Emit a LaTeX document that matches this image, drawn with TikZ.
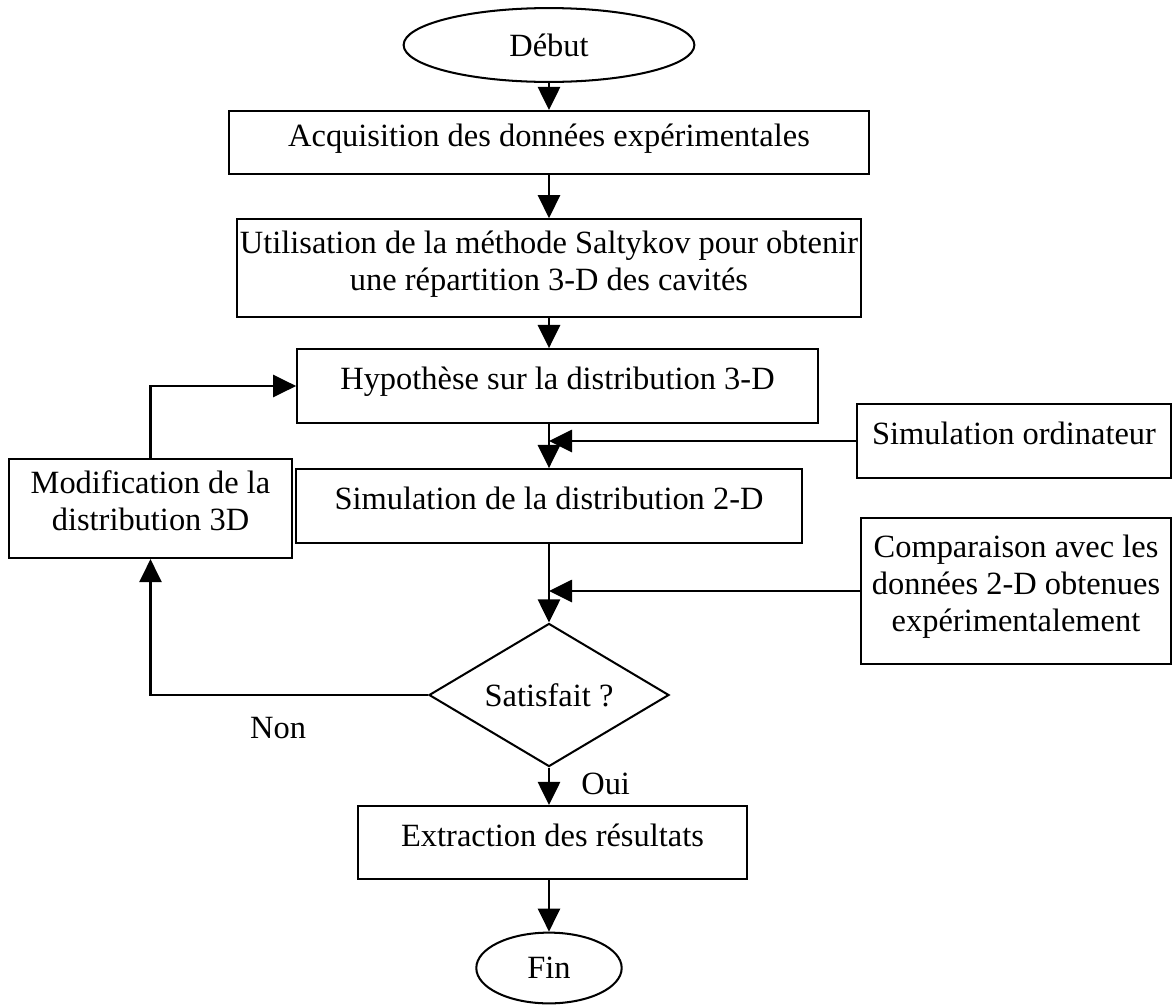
\documentclass[tikz,border=0pt]{standalone}
\usepackage{fontspec}
\setmainfont{Liberation Serif}
\usetikzlibrary{arrows.meta, shapes.geometric}

\begin{document}
\begin{tikzpicture}[
    x=0.013cm, y=-0.013cm,
    line width=0.75pt,
    font=\fontsize{12}{13.7}\selectfont,
    process/.style={rectangle, draw, align=center, inner sep=0pt, text depth=0.2cm},
    terminal/.style={ellipse, draw, inner sep=0pt},
    decision/.style={diamond, draw, aspect=1.68, inner sep=0pt},
    arrow/.style={-{Triangle[length=3mm, width=2.9mm]}}
  ]
    \useasboundingbox (0,0) rectangle (1173,1005);

    \node[terminal, minimum width=3.78cm, minimum height=0.96cm] (debut) at (549,45) {Début};
    \node[process, minimum width=8.32cm, minimum height=0.82cm] (acq) at (549,142.5) {Acquisition des données expérimentales};
    \node[process, minimum width=8.11cm, minimum height=1.27cm] (salt) at (549,268) {Utilisation de la méthode Saltykov pour obtenir\\une répartition 3-D des cavités};
    \node[process, minimum width=6.77cm, minimum height=0.96cm] (hyp) at (557.5,386) {Hypothèse sur la distribution 3-D};
    \node[process, minimum width=6.58cm, minimum height=0.96cm] (sim) at (549,506) {Simulation de la distribution 2-D};
    \node[process, minimum width=4.08cm, minimum height=0.96cm] (simord) at (1014,441) {Simulation ordinateur};
    \node[process, minimum width=4.03cm, minimum height=1.9cm] (comp) at (1016,591) {Comparaison avec les\\données 2-D obtenues\\expérimentalement};
    \node[process, minimum width=3.68cm, minimum height=1.29cm] (modif) at (150.5,508.5) {Modification de la\\distribution 3D};
    \node[decision, minimum width=3.12cm, minimum height=1.86cm] (sat) at (549,695) {Satisfait ?};
    \node[process, minimum width=5.06cm, minimum height=0.95cm] (extr) at (552.5,842.5) {Extraction des résultats};
    \node[terminal, minimum width=1.89cm, minimum height=0.92cm] (fin) at (549,968) {Fin};

    \draw[arrow] (debut) -- (acq);
    \draw[arrow] (acq) -- (salt);
    \draw[arrow] (salt) -- (salt.south |- hyp.north);
    \draw[arrow] (sim.north |- hyp.south) -- (sim);
    \draw[arrow] (simord) -- (simord -| sim.north);
    \draw[arrow] (sim) -- (sat);
    \draw[arrow] (comp) -- (comp -| sat.north);
    \draw[arrow] (sat) -- node[right=0.29cm, pos=0.45] {Oui} (sat |- extr.north);
    \draw[arrow] (fin.north |- extr.south) -- (fin);
    \draw[arrow] (sat) -| node[pos=0.27, yshift=-0.43cm] {Non} (modif);
    \draw[arrow] (modif) |- (hyp);
  \end{tikzpicture}
\end{document}
